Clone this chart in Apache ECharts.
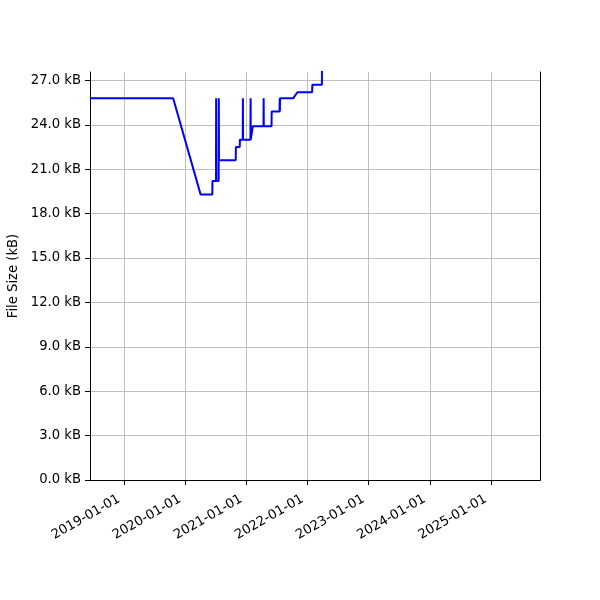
<!DOCTYPE html>
<html>
<head>
<meta charset="utf-8">
<script src="https://cdn.jsdelivr.net/npm/echarts@6/dist/echarts.min.js"></script>
<style>html,body{margin:0;padding:0;background:#fff}#c{width:600px;height:600px}</style>
</head>
<body>
<div id="c"></div>
<script>
// Data: commit dates and file sizes (kB)
var dates = [
  '2018-06-10','2019-10-20','2020-04-01','2020-06-10','2020-06-11',
  '2020-07-02','2020-07-03','2020-07-04','2020-07-18','2020-07-19','2020-07-20',
  '2020-10-28','2020-10-29','2020-11-21','2020-11-22',
  '2020-12-09','2020-12-10','2020-12-11',
  '2021-01-24','2021-01-25','2021-01-26','2021-02-06','2021-02-07',
  '2021-04-12','2021-04-13','2021-04-14',
  '2021-05-30','2021-05-31','2021-07-17','2021-07-18','2021-07-19','2021-07-20',
  '2021-10-07','2021-11-01','2022-01-28','2022-01-29','2022-03-27','2022-03-28'
];
var sizes = [
  25.8, 25.8, 19.3, 19.3, 20.2,
  20.2, 25.8, 20.2, 20.2, 25.8, 21.6,
  21.6, 22.5, 22.5, 23.0,
  23.0, 25.8, 23.0,
  23.0, 25.8, 23.0, 23.0, 23.9,
  23.9, 25.8, 23.9,
  23.9, 24.9, 24.9, 25.8, 24.9, 25.8,
  25.8, 26.2, 26.2, 26.7, 26.7, 28.6
];
var yTicks = [0, 3, 6, 9, 12, 15, 18, 21, 24, 27];
var xTickLabels = ['2019-01-01','2020-01-01','2021-01-01','2022-01-01','2023-01-01','2024-01-01','2025-01-01'];
var xRange = ['2018-06-10', '2025-10-21'];
var yMax = 27.57;

function ts(s) { var p = s.split('-'); return Date.UTC(+p[0], +p[1] - 1, +p[2]); }
function fmtDate(v) {
  var d = new Date(v);
  var m = d.getUTCMonth() + 1, dd = d.getUTCDate();
  return d.getUTCFullYear() + '-' + (m < 10 ? '0' : '') + m + '-' + (dd < 10 ? '0' : '') + dd;
}
var points = dates.map(function (d, i) { return [ts(d), sizes[i]]; });
var xTicks = xTickLabels.map(ts);

var FONT = 'DejaVu Sans';
var FS = 13.2;
var chart = echarts.init(document.getElementById('c'), null, { renderer: 'canvas' });
chart.setOption({
  animation: false,
  backgroundColor: '#fff',
  grid: { left: 90, right: 60, top: 72, bottom: 120, containLabel: false, outerBoundsMode: 'none' },
  xAxis: [{
    type: 'value',
    min: ts(xRange[0]), max: ts(xRange[1]),
    axisLine: { lineStyle: { color: '#000', width: 1 } },
    axisTick: { show: true, length: 5, lineStyle: { color: '#000' }, customValues: xTicks },
    axisLabel: {
      customValues: xTicks, rotate: 30, margin: 15, padding: [0, 6, 0, 0], color: '#000',
      fontFamily: FONT, fontSize: FS,
      formatter: function (v) { return fmtDate(v); }
    },
    splitLine: { show: true, lineStyle: { color: '#b0b0b0', width: 0.8 } }
  }, {
    type: 'value', position: 'top', min: 0, max: 1,
    axisLine: { show: true, lineStyle: { color: '#000', width: 1 } },
    axisTick: { show: false }, axisLabel: { show: false }, splitLine: { show: false }
  }],
  yAxis: [{
    type: 'value', min: 0, max: yMax,
    name: 'File Size (kB)', nameLocation: 'middle', nameGap: 56,
    nameTextStyle: { fontFamily: FONT, fontSize: FS, color: '#000' },
    axisLine: { show: true, lineStyle: { color: '#000', width: 1 } },
    axisTick: { show: true, length: 5, lineStyle: { color: '#000' }, customValues: yTicks },
    axisLabel: {
      customValues: yTicks, margin: 9, color: '#000', fontFamily: FONT, fontSize: FS,
      formatter: function (v) { return v.toFixed(1) + ' kB'; }
    },
    splitLine: { show: true, lineStyle: { color: '#b0b0b0', width: 0.8 } }
  }, {
    type: 'value', position: 'right', min: 0, max: 1,
    axisLine: { show: true, lineStyle: { color: '#000', width: 1 } },
    axisTick: { show: false }, axisLabel: { show: false }, splitLine: { show: false }
  }],
  series: [{
    type: 'line', xAxisIndex: 0, yAxisIndex: 0,
    data: points, showSymbol: false, symbol: 'none', clip: true,
    lineStyle: { color: '#0000ff', width: 2 }
  }]
});
</script>
</body>
</html>
